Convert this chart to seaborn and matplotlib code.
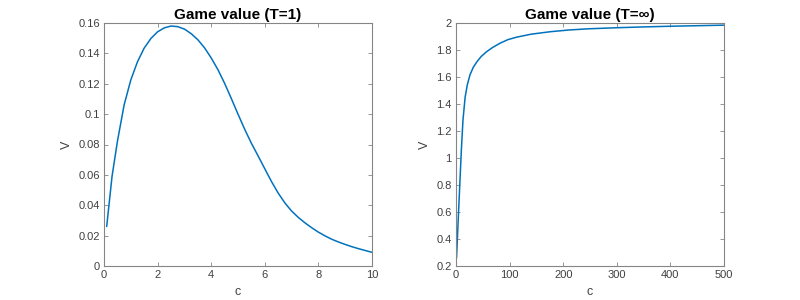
import matplotlib
matplotlib.use("Agg")
import matplotlib.pyplot as plt
import seaborn as sns
import pandas as pd
from matplotlib.ticker import FuncFormatter

# Data
c_t1 = [0.1, 0.3, 0.5, 0.75, 1.0, 1.25, 1.5, 1.75, 2.0, 2.25, 2.5, 2.75, 3.0, 3.25, 3.5,
        3.75, 4.0, 4.25, 4.5, 4.75, 5.0, 5.25, 5.5, 5.75, 6.0, 6.25, 6.5, 6.75, 7.0,
        7.25, 7.5, 7.75, 8.0, 8.25, 8.5, 8.75, 9.0, 9.25, 9.5, 9.75, 10.0]
v_t1 = [0.026, 0.059, 0.082, 0.106, 0.1225, 0.1345, 0.1435, 0.1498, 0.1542, 0.1568, 0.158, 0.1576, 0.156, 0.153, 0.149,
        0.1437, 0.137, 0.1293, 0.1203, 0.1103, 0.1000, 0.0900, 0.0808, 0.0725, 0.0640, 0.0556, 0.0480, 0.0415, 0.0362,
        0.0320, 0.0284, 0.0252, 0.0223, 0.0198, 0.0176, 0.0158, 0.0142, 0.0127, 0.0114, 0.0102, 0.0090]

c_tinf = [1, 5, 10, 13, 17, 21, 26, 32, 39, 47, 57, 68, 82, 97, 113, 140, 175, 210, 247,
          300, 350, 400, 450, 500]
v_tinf = [0.26, 0.62, 1.06, 1.28, 1.45, 1.54, 1.615, 1.67, 1.713, 1.752, 1.787, 1.818, 1.85, 1.877, 1.895,
          1.917, 1.935, 1.948, 1.957, 1.965, 1.971, 1.976, 1.980, 1.984]

titles = ["Game value (T=1)", "Game value (T=\u221e)"]

sns.set_style("white")
plt.rcParams['font.family'] = ['Liberation Sans', 'DejaVu Sans']

fig = plt.figure(figsize=(8, 3), dpi=100)
ax1 = fig.add_axes([104/800, 34/300, 268/800, 243/300])
ax2 = fig.add_axes([456/800, 34/300, 268/800, 243/300])

line_color = "#0072BD"
spine_color = "#858585"
text_color = "#404040"

df1 = pd.DataFrame({"c": c_t1, "V": v_t1})
df2 = pd.DataFrame({"c": c_tinf, "V": v_tinf})
sns.lineplot(data=df1, x="c", y="V", ax=ax1, color=line_color, linewidth=1.1)
sns.lineplot(data=df2, x="c", y="V", ax=ax2, color=line_color, linewidth=1.1)

ax1.set_xlim(0, 10)
ax1.set_ylim(0, 0.16)
ax1.set_xticks([0, 2, 4, 6, 8, 10])
ax1.set_yticks([0, 0.02, 0.04, 0.06, 0.08, 0.1, 0.12, 0.14, 0.16])

ax2.set_xlim(0, 500)
ax2.set_ylim(0.2, 2)
ax2.set_xticks([0, 100, 200, 300, 400, 500])
ax2.set_yticks([0.2, 0.4, 0.6, 0.8, 1, 1.2, 1.4, 1.6, 1.8, 2])

fmt = FuncFormatter(lambda v, p: f"{v:g}")
for ax, t in zip([ax1, ax2], titles):
    ax.yaxis.set_major_formatter(fmt)
    ax.xaxis.set_major_formatter(fmt)
    ax.set_title(t, fontsize=11, fontweight="bold", color="black", pad=3)
    ax.set_xlabel("c", fontsize=9, color=text_color, labelpad=4)
    ax.set_ylabel("V", fontsize=9, color=text_color, labelpad=4)
    for s in ax.spines.values():
        s.set_visible(True)
        s.set_color(spine_color)
        s.set_linewidth(0.8)
    ax.tick_params(direction="in", length=3, width=0.6, color=spine_color,
                   labelsize=8, labelcolor=text_color,
                   top=True, right=True, bottom=True, left=True, pad=3)

fig.savefig("out.png", dpi=100)
